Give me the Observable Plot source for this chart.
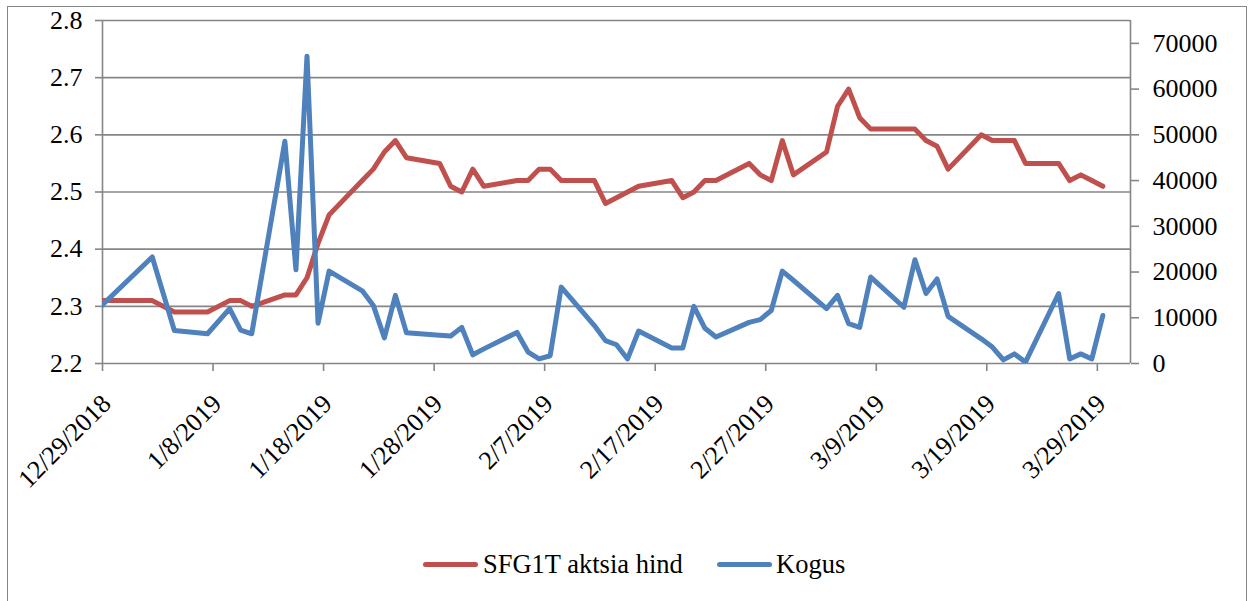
<!DOCTYPE html>
<html>
<head>
<meta charset="utf-8">
<script src="https://cdn.jsdelivr.net/npm/d3@7"></script>
<script src="https://cdn.jsdelivr.net/npm/@observablehq/plot@0.6"></script>
<style>
  html, body { margin: 0; padding: 0; background: #fff; }
  #wrap { position: relative; width: 1253px; height: 601px; overflow: hidden; font-family: "Liberation Serif", "Times New Roman", serif; }
  #frame { position: absolute; left: 7px; top: 6px; width: 1240px; height: 620px; border: 1px solid #868686; box-sizing: border-box; }
  #chart { position: absolute; left: 0; top: 0; }
  .sw { position: absolute; height: 5px; width: 55px; border-radius: 3px; top: 561.5px; }
  .lt { position: absolute; font-size: 26.5px; line-height: 26px; top: 551px; color: #000; white-space: nowrap; }
</style>
</head>
<body>
<div id="wrap">
  <div id="frame"></div>
  <div id="chart"></div>
  <div class="sw" style="left:423px;background:#C0504D"></div>
  <div class="lt" style="left:483px">SFG1T aktsia hind</div>
  <div class="sw" style="left:717px;background:#4F81BD"></div>
  <div class="lt" style="left:776px">Kogus</div>
</div>
<script>
// ---- data ----
const dates = [
  "2018-12-28","2019-01-02","2019-01-04","2019-01-07","2019-01-09","2019-01-10","2019-01-11",
  "2019-01-14","2019-01-15","2019-01-16","2019-01-17","2019-01-18","2019-01-21","2019-01-22",
  "2019-01-23","2019-01-24","2019-01-25","2019-01-28","2019-01-29","2019-01-30","2019-01-31",
  "2019-02-01","2019-02-04","2019-02-05","2019-02-06","2019-02-07","2019-02-08","2019-02-11",
  "2019-02-12","2019-02-13","2019-02-14","2019-02-15","2019-02-18","2019-02-19","2019-02-20",
  "2019-02-21","2019-02-22","2019-02-25","2019-02-26","2019-02-27","2019-02-28","2019-03-01",
  "2019-03-04","2019-03-05","2019-03-06","2019-03-07","2019-03-08","2019-03-11","2019-03-12",
  "2019-03-13","2019-03-14","2019-03-15","2019-03-18","2019-03-19","2019-03-20","2019-03-21",
  "2019-03-22","2019-03-25","2019-03-26","2019-03-27","2019-03-28","2019-03-29"
];
const price = [
  2.31,2.31,2.29,2.29,2.31,2.31,2.30,
  2.32,2.32,2.35,2.41,2.46,2.52,2.54,
  2.57,2.59,2.56,2.55,2.51,2.50,2.54,
  2.51,2.52,2.52,2.54,2.54,2.52,2.52,
  2.48,2.49,2.50,2.51,2.52,2.49,2.50,
  2.52,2.52,2.55,2.53,2.52,2.59,2.53,
  2.57,2.65,2.68,2.63,2.61,2.61,2.61,
  2.59,2.58,2.54,2.60,2.59,2.59,2.59,
  2.55,2.55,2.52,2.53,2.52,2.51
];
const volume = [
  11700,23300,7200,6500,12000,7300,6500,
  48600,20500,67200,8800,20200,15900,12700,
  5600,14900,6700,6200,6000,7900,1900,
  3200,6800,2500,1000,1700,16700,8300,
  5000,4100,1000,7100,3400,3400,12500,
  7700,5800,9000,9600,11600,20200,18200,
  12000,14900,8700,7900,18900,12300,22700,
  15300,18500,10300,5400,3600,800,2100,
  300,15300,1000,2100,1000,10500
];
const seriesNames = ["SFG1T aktsia hind", "Kogus"];
const leftTicks = [2.2, 2.3, 2.4, 2.5, 2.6, 2.7, 2.8];
const rightTicks = [0, 10000, 20000, 30000, 40000, 50000, 60000, 70000];
const xTicks = ["2018-12-29","2019-01-08","2019-01-18","2019-01-28","2019-02-07",
                "2019-02-17","2019-02-27","2019-03-09","2019-03-19","2019-03-29"];
const xDomain = ["2018-12-29", "2019-04-01"];
const leftDomain = [2.2, 2.8];
const rightDomain = [0, 75000];

// ---- build ----
const HALF_DAY = 12 * 3600 * 1000;
const rows = dates.map((d, i) => ({date: new Date(d), price: price[i], volume: volume[i]}));
// map secondary (right) axis values onto the primary scale
const toLeft = v => leftDomain[0] + (v - rightDomain[0]) / (rightDomain[1] - rightDomain[0]) * (leftDomain[1] - leftDomain[0]);
const fromLeft = y => rightDomain[0] + (y - leftDomain[0]) / (leftDomain[1] - leftDomain[0]) * (rightDomain[1] - rightDomain[0]);
const fmtDate = d3.utcFormat("%-m/%-d/%Y");
const grey = "#868686";
const xTickDates = xTicks.map(d => new Date(d));

const chart = Plot.plot({
  width: 1253,
  height: 530,
  marginLeft: 102,
  marginRight: 123,
  marginTop: 20,
  marginBottom: 167,
  style: {fontFamily: "'Liberation Serif', 'Times New Roman', serif", fontSize: "26px", color: "#000", background: "transparent", overflow: "visible"},
  x: {type: "utc", domain: xDomain.map(d => new Date(d))},
  y: {domain: leftDomain},
  marks: [
    Plot.gridY(leftTicks, {stroke: grey, strokeOpacity: 1, strokeWidth: 1.6}),
    Plot.ruleX([new Date(xDomain[0]), new Date(xDomain[1])], {stroke: grey, strokeWidth: 1.6}),
    Plot.axisY(leftTicks, {anchor: "left", tickSize: 7, tickPadding: 13, stroke: grey, strokeWidth: 1.6, tickFormat: d3.format(".1f"), label: null, fill: "#000"}),
    Plot.axisY(rightTicks.map(toLeft), {anchor: "right", tickSize: 8, tickPadding: 14, stroke: grey, strokeWidth: 1.6, tickFormat: y => String(Math.round(fromLeft(y))), label: null, fill: "#000"}),
    Plot.axisX(xTickDates, {anchor: "bottom", tickSize: 8, stroke: grey, strokeWidth: 1.6, tickFormat: () => "", label: null}),
    Plot.text(xTickDates, {x: d => d, text: d => fmtDate(d), frameAnchor: "bottom", dx: 4, dy: 36, rotate: -45, textAnchor: "end", lineAnchor: "middle", fontSize: 26, fill: "#000"}),
    Plot.lineY(rows, {x: d => new Date(d.date.getTime() + HALF_DAY), y: "price", stroke: "#C0504D", strokeWidth: 5, strokeLinejoin: "round", strokeLinecap: "round", clip: true}),
    Plot.lineY(rows, {x: d => new Date(d.date.getTime() + HALF_DAY), y: d => toLeft(d.volume), stroke: "#4F81BD", strokeWidth: 5, strokeLinejoin: "round", strokeLinecap: "round", clip: true})
  ]
});
document.getElementById("chart").appendChild(chart);
</script>
</body>
</html>
